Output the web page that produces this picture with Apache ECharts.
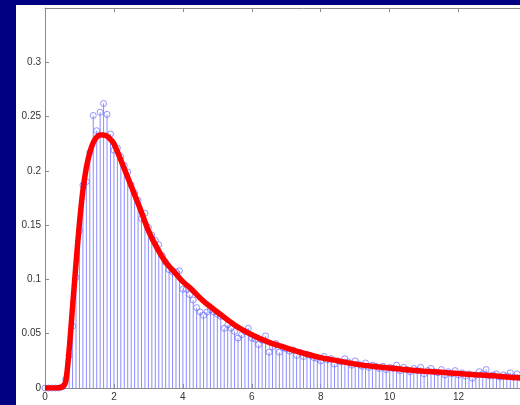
<!DOCTYPE html>
<html>
<head>
<meta charset="utf-8">
<script src="https://cdn.jsdelivr.net/npm/echarts@6/dist/echarts.min.js"></script>
<style>html,body{margin:0;padding:0;background:#000080;overflow:hidden;}#c{width:565px;height:405px;}</style>
</head>
<body>
<div id="c"></div>
<script>
// Stem samples: x starts at stemStart, spaced by stemStep
const stemStart = 0;
const stemStep = 0.1;
const stemValues = [
  0, 0, 0, 0, 0, 0.001, 0.008, 0.030, 0.057, 0.102,
  0.145, 0.187, 0.190, 0.217, 0.251, 0.237, 0.254, 0.262, 0.252, 0.234,
  0.219, 0.221, 0.213, 0.205, 0.199, 0.187, 0.180, 0.173, 0.156, 0.161,
  0.148, 0.141, 0.136, 0.132, 0.122, 0.116, 0.109, 0.107, 0.107, 0.108,
  0.091, 0.091, 0.086, 0.081, 0.074, 0.070, 0.067, 0.070, 0.072, 0.070,
  0.068, 0.066, 0.055, 0.058, 0.055, 0.052, 0.046, 0.049, 0.052, 0.055,
  0.046, 0.045, 0.040, 0.044, 0.048, 0.033, 0.038, 0.041, 0.033, 0.037,
  0.036, 0.034, 0.035, 0.030, 0.033, 0.029, 0.031, 0.030, 0.028, 0.027,
  0.025, 0.029, 0.026, 0.027, 0.022, 0.025, 0.024, 0.027, 0.024, 0.021,
  0.025, 0.022, 0.020, 0.023, 0.019, 0.021, 0.020, 0.018, 0.020, 0.017,
  0.019, 0.018, 0.021, 0.016, 0.019, 0.017, 0.015, 0.018, 0.016, 0.019,
  0.013, 0.016, 0.018, 0.015, 0.014, 0.017, 0.012, 0.015, 0.013, 0.016,
  0.012, 0.014, 0.011, 0.013, 0.009, 0.012, 0.015, 0.013, 0.017, 0.011,
  0.012, 0.013, 0.010, 0.012, 0.011, 0.014, 0.010, 0.013, 0.009, 0.011,
  0.010, 0.009, 0.010, 0.008, 0.009, 0.010, 0.008, 0.009, 0.007, 0.008,
  0.008
];
// Fitted density curve
const curveX = [0, 0.3, 0.5, 0.6, 0.7, 0.8, 0.9, 1.0, 1.1, 1.2, 1.3, 1.4, 1.5, 1.6, 1.7, 1.8, 1.9, 2.0,
  2.25, 2.5, 2.75, 3.0, 3.25, 3.5, 3.75, 4.0, 4.25, 4.5, 4.75, 5.0, 5.5, 6.0, 6.5, 7.0, 7.5, 8.0,
  8.5, 9.0, 9.5, 10.0, 10.5, 11.0, 11.5, 12.0, 12.5, 13.0, 13.5, 14.0, 15.0];
const curveY = [0, 0, 0.001, 0.006, 0.035, 0.075, 0.115, 0.152, 0.182, 0.203, 0.217, 0.226, 0.231, 0.233, 0.233, 0.232, 0.229, 0.225,
  0.206, 0.186, 0.166, 0.145, 0.129, 0.116, 0.107, 0.098, 0.091, 0.083, 0.076, 0.070, 0.058, 0.049, 0.042, 0.037, 0.032, 0.028,
  0.025, 0.022, 0.020, 0.0185, 0.0168, 0.0155, 0.0145, 0.0133, 0.0122, 0.0112, 0.0100, 0.0092, 0.0078];
const xTicks = [0, 2, 4, 6, 8, 10, 12, 14];
const yTicks = [0, 0.05, 0.1, 0.15, 0.2, 0.25, 0.3];

const stemData = stemValues.map((v, i) => [Math.round((stemStart + i * stemStep) * 10) / 10, v]);
const curveData = curveX.map((x, i) => [x, curveY[i]]);

const axisGray = '#8a8a8a';
const labelStyle = { color: '#333', fontSize: 10, fontFamily: 'Liberation Sans, Arial, sans-serif' };

const chart = echarts.init(document.getElementById('c'), null, { renderer: 'canvas' });
chart.setOption({
  backgroundColor: '#000080',
  animation: false,
  graphic: [{
    type: 'rect', z: -100, silent: true,
    shape: { x: 16, y: 5, width: 549, height: 400 },
    style: { fill: '#ffffff' }
  }],
  grid: { left: 45, top: 8, bottom: 17, right: 0, containLabel: false },
  xAxis: [{
    type: 'value', position: 'bottom', min: 0, max: 15, interval: 2,
    axisLine: { show: true, lineStyle: { color: axisGray, width: 1 } },
    axisTick: { show: true, inside: true, length: 4, lineStyle: { color: axisGray } },
    axisLabel: Object.assign({ margin: 4, formatter: v => xTicks.includes(v) ? String(v) : '' }, labelStyle),
    splitLine: { show: false }
  }, {
    type: 'value', position: 'top', min: 0, max: 15, interval: 2,
    axisLine: { show: true, lineStyle: { color: axisGray, width: 1 } },
    axisTick: { show: true, inside: true, length: 4, lineStyle: { color: axisGray } },
    axisLabel: { show: false },
    splitLine: { show: false }
  }],
  yAxis: [{
    type: 'value', position: 'left', min: 0, max: 0.35, interval: 0.05,
    axisLine: { show: true, lineStyle: { color: axisGray, width: 1 } },
    axisTick: { show: true, inside: true, length: 4, lineStyle: { color: axisGray } },
    axisLabel: Object.assign({ margin: 4, showMaxLabel: false,
      formatter: v => { const r = Math.round(v * 100) / 100; return yTicks.includes(r) ? String(r) : ''; } }, labelStyle),
    splitLine: { show: false }
  }],
  series: [{
    type: 'bar', xAxisIndex: 0, data: stemData, barWidth: 1,
    itemStyle: { color: '#8c8cff' }, z: 2, silent: true
  }, {
    type: 'scatter', xAxisIndex: 0, data: stemData, symbol: 'circle', symbolSize: 6,
    itemStyle: { color: 'rgba(255,255,255,0)', borderColor: '#6a6aff', borderWidth: 0.9 }, z: 3, silent: true
  }, {
    type: 'line', xAxisIndex: 0, data: curveData, smooth: 0.3, showSymbol: false,
    lineStyle: { color: '#ff0000', width: 5.5 }, z: 4, silent: true
  }]
});
</script>
</body>
</html>
